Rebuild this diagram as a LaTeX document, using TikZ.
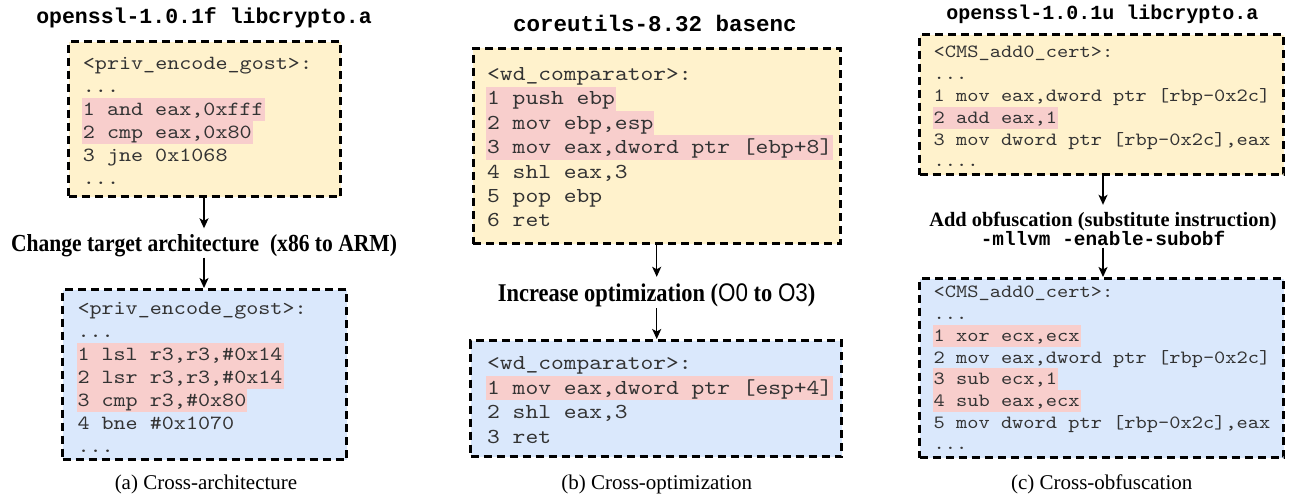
\documentclass[tikz,border=0pt]{standalone}
\usepackage{fontspec}
\setmainfont{Liberation Serif}
\newfontfamily\codefont{lmmono10-regular.otf}[FakeStretch=1.143]
\newfontfamily\ttlfont{Liberation Mono}
\newfontfamily\labfont{Liberation Serif}[FakeStretch=0.88]
\newfontfamily\labsans{Liberation Sans}[FakeStretch=0.88]
\usetikzlibrary{arrows.meta}
\definecolor{yfill}{RGB}{255,242,204}
\definecolor{bfill}{RGB}{218,232,252}
\definecolor{hlc}{RGB}{248,206,204}
\definecolor{codec}{RGB}{51,51,51}
\tikzset{
  box/.style={draw=black, line width=3pt, dash pattern=on 8pt off 5pt, inner sep=0pt},
  ybox/.style={box, fill=yfill},
  bbox/.style={box, fill=bfill},
  code/.style={anchor=base west, inner sep=0pt, inner xsep=1pt, text=codec},
  codeA/.style={code, font=\codefont\fontsize{20.1}{20.1}\selectfont, text height=17.5pt, text depth=5.5pt},
  codeB/.style={code, font=\codefont\fontsize{21.3}{21.3}\selectfont, text height=18.3pt, text depth=6.1pt},
  codeC/.style={code, font=\codefont\fontsize{18.7}{18.7}\selectfont, text height=16.3pt, text depth=5.5pt},
  hl/.style={fill=hlc},
  arr/.style={line width=1.5pt, -{Stealth[length=10pt,width=9pt,inset=2.5pt]}},
  ttl/.style={inner sep=0pt, font=\ttlfont\bfseries\fontsize{#1}{#1}\selectfont},
  lab/.style={anchor=base, inner sep=0pt, font=\bfseries\fontsize{#1}{#1}\selectfont},
  tall/.style={anchor=base, inner sep=0pt, font=\labfont\bfseries\fontsize{#1}{#1}\selectfont},
  captxt/.style={anchor=base, inner sep=0pt, font=\fontsize{21}{21}\selectfont},
}
\begin{document}
\begin{tikzpicture}[x=1pt,y=-1pt]
\useasboundingbox (0,0) rectangle (1298,499);
% ---------- panel (a)
\node[ttl=21.5] (aTitle) at (204,17.5) {openssl-1.0.1f libcrypto.a};
\node[ybox, minimum width=272pt, minimum height=155pt] (aTop) at (204.5,119) {};
\node[codeA] (aT0) at (81.7,69) {<priv\_encode\_gost>:};
\node[codeA] (aT1) at (81.7,92) {...};
\node[codeA,hl] (aT2) at (81.7,115) {1 and eax,0xfff};
\node[codeA,hl] (aT3) at (81.7,138) {2 cmp eax,0x80};
\node[codeA] (aT4) at (81.7,161) {3 jne 0x1068};
\node[codeA] (aT5) at (81.7,184) {...};
\node[tall=24.5, text height=23pt, text depth=6pt] (aLab) at (204,251.5) {Change target architecture~~(x86 to ARM)};
\node[bbox, minimum width=284pt, minimum height=170pt] (aBot) at (204.5,374.5) {};
\node[codeA] (aB0) at (76.3,314) {<priv\_encode\_gost>:};
\node[codeA] (aB1) at (76.3,337) {...};
\node[codeA,hl] (aB2) at (76.3,360) {1 lsl r3,r3,\#0x14};
\node[codeA,hl] (aB3) at (76.3,383) {2 lsr r3,r3,\#0x14};
\node[codeA,hl] (aB4) at (76.3,406) {3 cmp r3,\#0x80};
\node[codeA] (aB5) at (76.3,429) {4 bne \#0x1070};
\node[codeA] (aB6) at (76.3,452) {...};
\draw[arr] (aTop.south -| aLab) -- (aLab.north);
\draw[arr] (aLab.south) -- (aBot.north -| aLab);
\node[captxt] (aCap) at (206,489) {(a) Cross-architecture};
% ---------- panel (b)
\node[ttl=22.5] (bTitle) at (655,23.3) {coreutils-8.32 basenc};
\node[ybox, minimum width=367pt, minimum height=195.5pt] (bTop) at (656.7,146.2) {};
\node[codeB] (bT0) at (486,80.4) {<wd\_comparator>:};
\node[codeB,hl] (bT1) at (486,104.8) {1 push ebp};
\node[codeB,hl] (bT2) at (486,129.2) {2 mov ebp,esp};
\node[codeB,hl] (bT3) at (486,153.6) {3 mov eax,dword ptr [ebp+8]};
\node[codeB] (bT4) at (486,178) {4 shl eax,3};
\node[codeB] (bT5) at (486,202.4) {5 pop ebp};
\node[codeB] (bT6) at (486,226.8) {6 ret};
\node[tall=25.5, text height=24.5pt, text depth=6.5pt] (bLab) at (656.7,301.5) {Increase optimization ({\labsans\mdseries O0} to {\labsans\mdseries O3})};
\node[bbox, minimum width=371pt, minimum height=116pt] (bBot) at (656,398.5) {};
\node[codeB] (bB0) at (486,369.9) {<wd\_comparator>:};
\node[codeB,hl] (bB1) at (486,394.3) {1 mov eax,dword ptr [esp+4]};
\node[codeB] (bB2) at (486,418.7) {2 shl eax,3};
\node[codeB] (bB3) at (486,443.1) {3 ret};
\draw[arr] (bTop.south -| bLab) -- (bLab.north);
\draw[arr] (bLab.south) -- (bBot.north -| bLab);
\node[captxt] (bCap) at (656.7,489) {(b) Cross-optimization};
% ---------- panel (c)
\node[ttl=20] (cTitle) at (1102.5,14.5) {openssl-1.0.1u libcrypto.a};
\node[ybox, minimum width=364pt, minimum height=140pt] (cTop) at (1101.5,104.5) {};
\node[codeC] (cT0) at (932.5,57.9) {<CMS\_add0\_cert>:};
\node[codeC] (cT1) at (932.5,79.7) {...};
\node[codeC] (cT2) at (932.5,101.5) {1 mov eax,dword ptr [rbp-0x2c]};
\node[codeC,hl] (cT3) at (932.5,123.3) {2 add eax,1};
\node[codeC] (cT4) at (932.5,145.1) {3 mov dword ptr [rbp-0x2c],eax};
\node[codeC] (cT5) at (932.5,166.9) {....};
\node[lab=20.4, text height=21.5pt, text depth=3pt] (cLab) at (1103,226.5) {Add obfuscation (substitute instruction)};
\node[anchor=base, inner sep=0pt, font=\ttlfont\bfseries\fontsize{19.4}{19.4}\selectfont, text height=12pt, text depth=2.5pt] (cLab2) at (1103,245) {-mllvm -enable-subobf};
\node[bbox, minimum width=364pt, minimum height=179pt] (cBot) at (1101.5,368) {};
\node[codeC] (cB0) at (932.5,297.9) {<CMS\_add0\_cert>:};
\node[codeC] (cB1) at (932.5,319.6) {...};
\node[codeC,hl] (cB2) at (932.5,341.3) {1 xor ecx,ecx};
\node[codeC] (cB3) at (932.5,363.0) {2 mov eax,dword ptr [rbp-0x2c]};
\node[codeC,hl] (cB4) at (932.5,384.7) {3 sub ecx,1};
\node[codeC,hl] (cB5) at (932.5,406.4) {4 sub eax,ecx};
\node[codeC] (cB6) at (932.5,428.1) {5 mov dword ptr [rbp-0x2c],eax};
\node[codeC] (cB7) at (932.5,449.8) {...};
\draw[arr] (cTop.south -| cLab) -- (cLab.north);
\draw[arr] (cLab2.south) -- (cBot.north -| cLab2);
\node[captxt] (cCap) at (1101.7,489) {(c) Cross-obfuscation};
\end{tikzpicture}
\end{document}
